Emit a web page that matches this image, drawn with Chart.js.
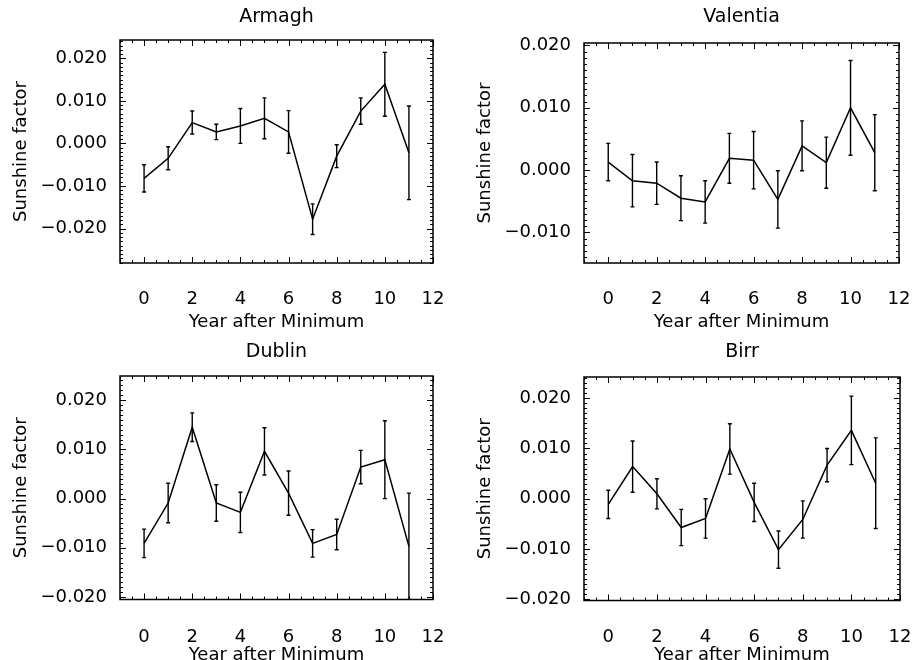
<!DOCTYPE html>
<html>
<head>
<meta charset="utf-8">
<script src="https://cdn.jsdelivr.net/npm/chart.js@4.4.1/dist/chart.umd.min.js"></script>
<style>
  html, body { margin: 0; padding: 0; background: #fff; }
  body { width: 912px; height: 660px; position: relative; overflow: hidden; }
  canvas { position: absolute; }
</style>
</head>
<body>
<canvas id="c0" width="456" height="336" style="left:0;top:0"></canvas>
<canvas id="c1" width="456" height="336" style="left:456px;top:0"></canvas>
<canvas id="c2" width="456" height="330" style="left:0;top:336px"></canvas>
<canvas id="c3" width="456" height="330" style="left:456px;top:336px"></canvas>
<script>
// years after solar minimum
const years = [0, 1, 2, 3, 4, 5, 6, 7, 8, 9, 10, 11];

const armagh    = [-0.0082, -0.0035, 0.0049, 0.0027, 0.0041, 0.0059, 0.0027, -0.0178, -0.0030, 0.0076, 0.0139, -0.0022];
const armaghErr = [0.0032, 0.0027, 0.0027, 0.0018, 0.0041, 0.0048, 0.0050, 0.0036, 0.0027, 0.0031, 0.0075, 0.0110];

const valentia    = [0.0013, -0.0017, -0.0021, -0.0045, -0.0051, 0.0019, 0.0016, -0.0047, 0.0039, 0.0012, 0.0100, 0.0028];
const valentiaErr = [0.0030, 0.0042, 0.0034, 0.0036, 0.0034, 0.0040, 0.0046, 0.0046, 0.0040, 0.0041, 0.0076, 0.0061];

const dublin    = [-0.0091, -0.0009, 0.0145, -0.0009, -0.0028, 0.0096, 0.0011, -0.0091, -0.0073, 0.0064, 0.0079, -0.0097];
const dublinErr = [0.0029, 0.0040, 0.0029, 0.0037, 0.0041, 0.0048, 0.0045, 0.0028, 0.0031, 0.0034, 0.0079, 0.0108];

const birr    = [-0.0011, 0.0064, 0.0010, -0.0057, -0.0039, 0.0099, -0.0007, -0.0101, -0.0041, 0.0067, 0.0136, 0.0031];
const birrErr = [0.0028, 0.0051, 0.0030, 0.0036, 0.0039, 0.0050, 0.0038, 0.0037, 0.0037, 0.0033, 0.0068, 0.0090];

const xTicks = [0, 2, 4, 6, 8, 10, 12];
const yTicks = [-0.02, -0.01, 0, 0.01, 0.02];

const FONT = 'DejaVu Sans';
const minus = '\u2212';

// draws title above the plot box
const boxTitle = {
  id: 'boxTitle',
  afterDraw(chart, args, opts) {
    const { ctx, chartArea } = chart;
    ctx.save();
    ctx.font = '19px ' + FONT;
    ctx.fillStyle = '#000';
    ctx.textAlign = 'center';
    ctx.textBaseline = 'middle';
    ctx.fillText(opts.text, (chartArea.left + chartArea.right) / 2, opts.y);
    ctx.restore();
  }
};

// closed frame with inward major/minor ticks on all sides
const frame = {
  id: 'frame',
  afterDraw(chart) {
    const { ctx, chartArea: a, scales: { x, y } } = chart;
    ctx.save();
    ctx.strokeStyle = '#000';
    ctx.lineWidth = 1.5;
    ctx.strokeRect(a.left, a.top, a.right - a.left, a.bottom - a.top);
    ctx.lineWidth = 1;
    ctx.beginPath();
    // x ticks every half year
    for (let k = Math.ceil(x.min * 2); k <= Math.floor(x.max * 2); k++) {
      const px = Math.round(x.getPixelForValue(k / 2)) + 0.5;
      const len = (k % 4 === 0) ? 6 : 3;
      ctx.moveTo(px, a.bottom); ctx.lineTo(px, a.bottom - len);
      ctx.moveTo(px, a.top); ctx.lineTo(px, a.top + len);
    }
    // y ticks every 0.001
    for (let k = Math.ceil(y.min * 1000); k <= Math.floor(y.max * 1000); k++) {
      const py = Math.round(y.getPixelForValue(k / 1000)) + 0.5;
      const len = (k % 10 === 0) ? 6 : 3;
      ctx.moveTo(a.left, py); ctx.lineTo(a.left + len, py);
      ctx.moveTo(a.right, py); ctx.lineTo(a.right - len, py);
    }
    ctx.stroke();
    ctx.restore();
  }
};

const errorBars = {
  id: 'errorBars',
  afterDatasetsDraw(chart, args, opts) {
    const { ctx, chartArea: a, scales: { x, y } } = chart;
    const pts = chart.data.datasets[0].data;
    ctx.save();
    ctx.beginPath();
    ctx.rect(a.left, a.top, a.right - a.left, a.bottom - a.top);
    ctx.clip();
    ctx.strokeStyle = '#000';
    ctx.lineWidth = 1.4;
    ctx.beginPath();
    pts.forEach((p, i) => {
      const px = x.getPixelForValue(p.x);
      const hi = y.getPixelForValue(p.y + opts.errs[i]);
      const lo = y.getPixelForValue(p.y - opts.errs[i]);
      ctx.moveTo(px, hi); ctx.lineTo(px, lo);
      ctx.moveTo(px - 2, hi); ctx.lineTo(px + 2, hi);
      ctx.moveTo(px - 2, lo); ctx.lineTo(px + 2, lo);
    });
    ctx.stroke();
    ctx.restore();
  }
};

function makePanel(id, title, titleY, values, errs, yMin, yMax, area, tickPad, xTitlePad) {
  const canvas = document.getElementById(id);
  const w = canvas.width, h = canvas.height;
  new Chart(canvas, {
    type: 'line',
    data: {
      datasets: [{
        data: years.map((yr, i) => ({ x: yr, y: values[i] })),
        borderColor: '#000',
        borderWidth: 1.5,
        pointRadius: 0,
        tension: 0,
        fill: false
      }]
    },
    options: {
      responsive: false,
      animation: false,
      events: [],
      layout: { padding: { top: area.top, right: w - area.right, left: 0, bottom: 0 } },
      plugins: {
        legend: { display: false },
        tooltip: { enabled: false },
        boxTitle: { text: title, y: titleY },
        errorBars: { errs: errs }
      },
      scales: {
        x: {
          type: 'linear',
          min: -1,
          max: 12,
          afterBuildTicks: s => { s.ticks = xTicks.map(v => ({ value: v })); },
          afterFit: s => { s.height = h - area.bottom; s.paddingLeft = 0; s.paddingRight = 0; },
          grid: { display: false, drawTicks: false },
          border: { display: false },
          ticks: {
            color: '#000',
            padding: tickPad,
            maxRotation: 0,
            font: { family: FONT, size: 18, lineHeight: 1 },
            callback: v => String(v)
          },
          title: {
            display: true,
            text: 'Year after Minimum',
            color: '#000',
            padding: { top: 0, bottom: xTitlePad },
            font: { family: FONT, size: 18, lineHeight: 1 }
          }
        },
        y: {
          type: 'linear',
          min: yMin,
          max: yMax,
          afterBuildTicks: s => {
            s.ticks = yTicks.filter(v => v >= yMin && v <= yMax).map(v => ({ value: v }));
          },
          afterFit: s => { s.width = area.left; s.paddingTop = 0; s.paddingBottom = 0; },
          grid: { display: false, drawTicks: false },
          border: { display: false },
          ticks: {
            color: '#000',
            padding: 13,
            font: { family: FONT, size: 18, lineHeight: 1 },
            callback: v => (v < 0 ? minus : '') + Math.abs(v).toFixed(3)
          },
          title: {
            display: true,
            text: 'Sunshine factor',
            color: '#000',
            padding: { top: area.left - 108, bottom: 0 },
            font: { family: FONT, size: 18, lineHeight: 1 }
          }
        }
      }
    },
    plugins: [errorBars, frame, boxTitle]
  });
}

makePanel('c0', 'Armagh', 17, armagh, armaghErr, -0.0281, 0.0243,
  { left: 120, top: 40, right: 433, bottom: 263 }, 27, 5);
makePanel('c1', 'Valentia', 17, valentia, valentiaErr, -0.0149, 0.0204,
  { left: 128, top: 43, right: 443, bottom: 263 }, 27, 5);
makePanel('c2', 'Dublin', 16, dublin, dublinErr, -0.0205, 0.0249,
  { left: 120, top: 40, right: 433, bottom: 263.5 }, 29, 2);
makePanel('c3', 'Birr', 16, birr, birrErr, -0.0202, 0.0242,
  { left: 128, top: 41, right: 444, bottom: 264.5 }, 28, 2);
</script>
</body>
</html>
